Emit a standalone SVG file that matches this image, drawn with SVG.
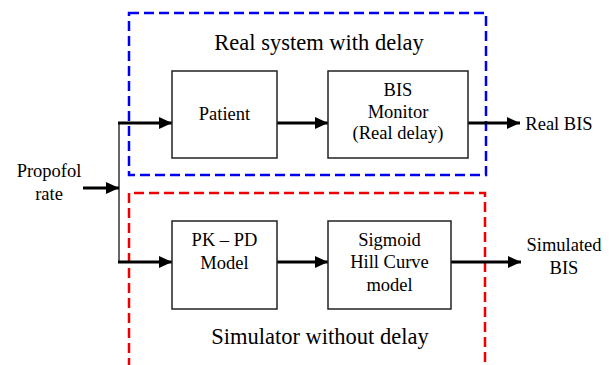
<svg xmlns="http://www.w3.org/2000/svg" width="612" height="365" viewBox="0 0 612 365">
<style>
.t{font-family:"Liberation Serif",Tinos,"Times New Roman","DejaVu Serif","Noto Serif",serif;fill:#000;text-anchor:middle}
.s{font-size:18.5px}
.big{font-size:22.5px}
.box{fill:#fff;stroke:#222;stroke-width:1.5}
.c{stroke:#000;stroke-width:3;fill:none}
.thin{stroke:#333;stroke-width:1.5;fill:none}
.blue{fill:none;stroke:#0000ee;stroke-width:2.5;stroke-dasharray:10,5}
.red{fill:none;stroke:#ee0000;stroke-width:2.5;stroke-dasharray:10,5}
</style>
<defs>
<marker id="ah" markerWidth="13" markerHeight="12" refX="13" refY="6" orient="auto" markerUnits="userSpaceOnUse">
<path d="M0,0 L13,6 L0,12 Z" fill="#000"/>
</marker>
</defs>
<rect width="612" height="365" fill="#fff"/>
<g id="real-system">
<rect class="blue" x="129" y="13" width="357" height="162"/>
<text class="t big" x="319" y="50">Real system with delay</text>
</g>
<g id="simulator">
<path class="red" d="M129,368 V193 H485 V368"/>
<text class="t big" x="320" y="344">Simulator without delay</text>
</g>
<g id="connectors">
<path class="thin" d="M119,123 V262"/>
<line class="c" x1="83" y1="188" x2="119" y2="188" marker-end="url(#ah)"/>
<line class="c" x1="118" y1="123" x2="172" y2="123" marker-end="url(#ah)"/>
<line class="c" x1="277" y1="123" x2="328" y2="123" marker-end="url(#ah)"/>
<line class="c" x1="468" y1="123" x2="520" y2="123" marker-end="url(#ah)"/>
<line class="c" x1="118" y1="262" x2="172" y2="262" marker-end="url(#ah)"/>
<line class="c" x1="277" y1="262" x2="328" y2="262" marker-end="url(#ah)"/>
<line class="c" x1="451" y1="262" x2="521" y2="262" marker-end="url(#ah)"/>
</g>
<g id="propofol">
<text class="t s" x="49" y="177">Propofol</text>
<text class="t s" x="49" y="200">rate</text>
</g>
<g id="patient">
<rect class="box" x="172" y="71" width="105" height="87"/>
<text class="t s" x="224.5" y="120">Patient</text>
</g>
<g id="bis-monitor">
<rect class="box" x="328" y="71" width="140" height="87"/>
<text class="t s" x="398" y="96">BIS</text>
<text class="t s" x="398" y="118">Monitor</text>
<text class="t s" x="398" y="139">(Real delay)</text>
</g>
<g id="pkpd">
<rect class="box" x="172" y="221" width="105" height="88"/>
<text class="t s" x="224.5" y="246">PK – PD</text>
<text class="t s" x="224.5" y="269">Model</text>
</g>
<g id="sigmoid">
<rect class="box" x="328" y="221" width="123" height="88"/>
<text class="t s" x="389.5" y="246">Sigmoid</text>
<text class="t s" x="389.5" y="268">Hill Curve</text>
<text class="t s" x="389.5" y="291">model</text>
</g>
<g id="real-bis">
<text class="t s" x="559" y="130">Real BIS</text>
</g>
<g id="simulated-bis">
<text class="t s" x="564" y="251">Simulated</text>
<text class="t s" x="564" y="274">BIS</text>
</g>
</svg>
